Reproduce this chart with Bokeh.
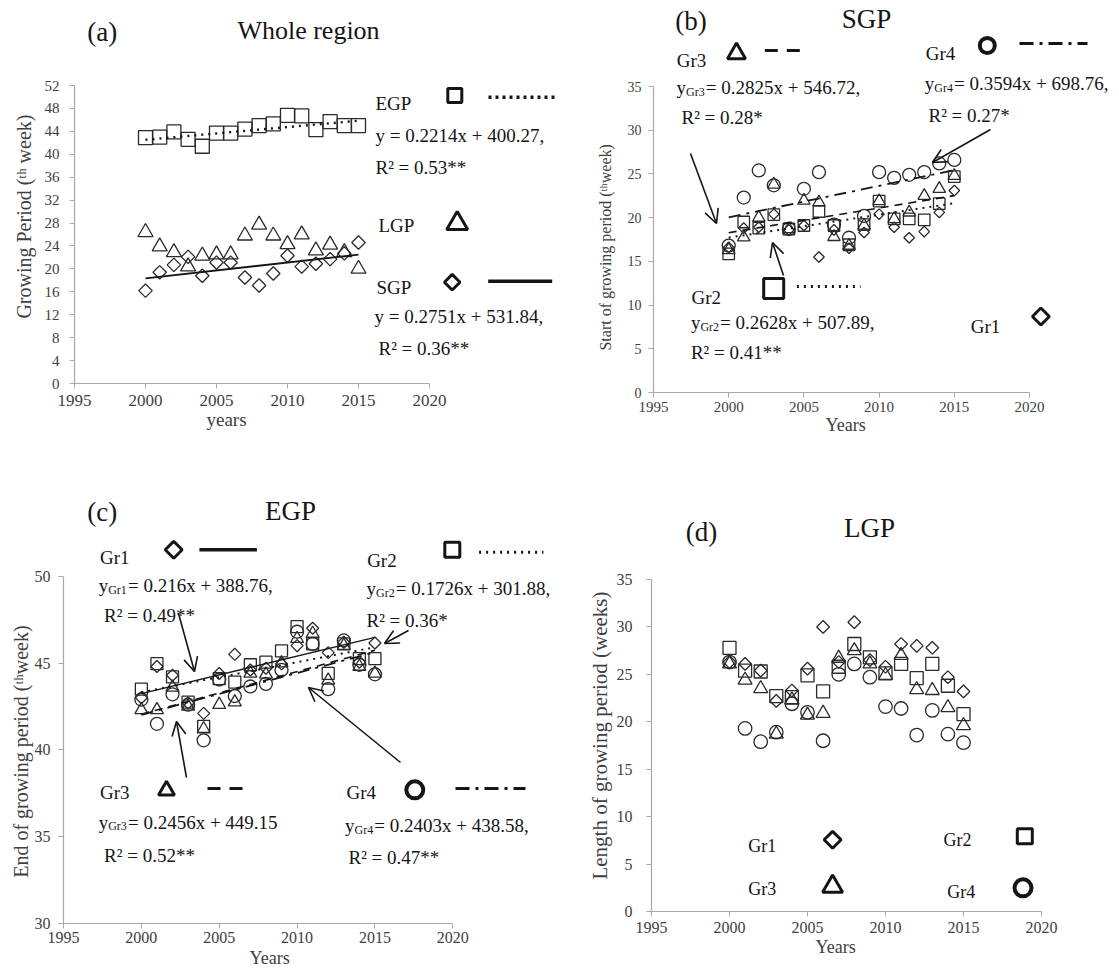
import math
from bokeh.plotting import figure
from bokeh.models import Range1d, FixedTicker, Label, Arrow, OpenHead, Title
from bokeh.layouts import column, row
from bokeh.embed import file_html
from bokeh.resources import INLINE

# ---------------- data ----------------
years = list(range(2000, 2016))
x_ticks = [1995, 2000, 2005, 2010, 2015, 2020]

# (a) whole region
egp_a = [42.9, 43.0, 43.9, 42.6, 41.4, 43.7, 43.7, 44.4, 45.0, 45.3, 46.8, 46.7, 44.3, 45.7, 45.0, 45.0]
lgp_a = [26.4, 23.9, 22.9, 20.4, 22.3, 22.5, 22.5, 25.8, 27.7, 25.8, 24.3, 26.0, 23.2, 24.2, 22.9, 20.0]
sgp_a = [16.2, 19.4, 20.7, 22.1, 18.8, 21.1, 21.1, 18.5, 17.1, 19.2, 22.3, 20.4, 20.9, 21.7, 22.7, 24.6]
trend_a_slope = {"EGP": 0.2214, "SGP": 0.2751}
trend_a_icpt = {"EGP": -400.27, "SGP": -531.84}

# (b) SGP by group
sgp_gr1 = [16.6, 18.8, 18.9, 20.4, 18.6, 19.1, 15.5, 18.6, 16.5, 18.3, 20.4, 18.9, 17.7, 18.4, 20.6, 23.1]
sgp_gr2 = [15.85, 19.5, 18.8, 20.35, 18.7, 19.1, 20.7, 19.1, 16.9, 19.2, 21.9, 19.85, 19.85, 19.75, 21.6, 24.7]
sgp_gr3 = [16.3, 17.75, 20.0, 23.8, 18.7, 21.95, 21.75, 17.8, 16.8, 19.1, 21.9, 19.85, 20.6, 22.5, 23.3, 24.8]
sgp_gr4 = [16.8, 22.3, 25.4, 23.7, 18.7, 23.3, 25.2, 19.2, 17.7, 20.2, 25.2, 24.55, 24.9, 25.2, 26.2, 26.6]
trend_b_slope = {"Gr2": 0.2628, "Gr3": 0.2825, "Gr4": 0.3594}
trend_b_icpt = {"Gr2": -507.89, "Gr3": -546.72, "Gr4": -698.76}

# (c) EGP by group
egp_gr1 = [43.0, 44.8, 44.3, 42.7, 42.1, 44.4, 45.5, 44.6, 44.7, 44.95, 46.0, 47.0, 45.6, 46.2, 45.05, 46.15]
egp_gr2 = [43.5, 44.96, 44.2, 42.75, 41.35, 44.1, 43.9, 44.9, 45.05, 45.7, 47.1, 46.1, 44.4, 46.1, 45.25, 45.25]
egp_gr3 = [42.3, 42.3, 43.6, 42.5, 41.2, 42.6, 42.75, 44.4, 44.35, 45.0, 46.4, 46.7, 44.0, 46.0, 44.8, 44.4]
egp_gr4 = [42.9, 41.5, 43.2, 42.6, 40.55, 44.05, 43.1, 43.65, 43.8, 44.6, 46.8, 46.1, 43.5, 46.3, 44.9, 44.35]
trend_c_slope = {"Gr1": 0.216, "Gr2": 0.1726, "Gr3": 0.2456, "Gr4": 0.2403}
trend_c_icpt = {"Gr1": -388.76, "Gr2": -301.88, "Gr3": -449.15, "Gr4": -438.58}

# (d) LGP by group
lgp_gr1 = [26.3, 26.1, 25.4, 22.2, 23.3, 25.6, 30.0, 26.3, 30.5, 26.5, 25.8, 28.2, 28.0, 27.8, 24.7, 23.2]
lgp_gr2 = [27.8, 25.4, 25.3, 22.7, 22.6, 24.9, 23.2, 25.8, 28.2, 26.8, 25.1, 26.1, 24.6, 26.1, 23.8, 20.8]
lgp_gr3 = [26.1, 24.4, 23.5, 18.7, 22.3, 20.7, 20.9, 26.7, 27.5, 26.1, 24.9, 27.0, 23.4, 23.3, 21.5, 19.6]
lgp_gr4 = [26.3, 19.3, 17.9, 18.9, 21.9, 21.0, 18.0, 25.0, 26.1, 24.7, 21.6, 21.4, 18.6, 21.2, 18.7, 17.8]

# ---------------- style ----------------
FONT = "Liberation Serif"
TXT = "#151515"
GREY = "#404040"
AXC = "#a8a8a8"
MK = "#2a2a2a"
DOT = "2 5"
DASH = "13 9"
DASHDOT = "14 6 3 6"

# approximate Times advance widths (em) used to centre side titles
_W = {" ": .25, "(": .333, ")": .333, "a": .444, "d": .5, "e": .444, "f": .333,
      "g": .5, "h": .5, "i": .278, "k": .5, "l": .278, "n": .5, "o": .5, "p": .5,
      "r": .333, "s": .389, "t": .278, "w": .722, "y": .5, "E": .611, "G": .722,
      "L": .611, "P": .556, "S": .556, "Y": .722, "ᵗ": .3, "ʰ": .32}


def text_em(s):
    return sum(_W.get(c, .5) for c in s)


class Panel:
    """fx, fy: page position of the figure; bb: bottom border (equal within a row)."""

    def __init__(self, fx, fy, w, bb, px_x0, px_x1, x0, x1, py_y0, py_y1, y0, y1):
        left = int(round(px_x0 - fx))
        fb = int(round(py_y0))          # page y of frame bottom (= axis)
        h = fb - fy + bb
        self.kx = (px_x1 - px_x0) / (x1 - x0)
        self.ky = (py_y0 - py_y1) / (y1 - y0)
        self.ax0 = fx + left
        self.ay0 = fb
        self.x0, self.y0 = x0, y0
        xe = x0 + (w - left) / self.kx
        ye = y0 + (self.ay0 - fy) / self.ky
        p = figure(width=w, height=h, x_range=Range1d(x0, xe), y_range=Range1d(y0, ye),
                   output_backend="svg", toolbar_location=None,
                   min_border_left=left, min_border_right=0, min_border_top=0,
                   min_border_bottom=bb, outline_line_color=None,
                   background_fill_color="white", border_fill_color="white")
        p.grid.visible = False
        self.p = p

    def X(self, px):
        return self.x0 + (px - self.ax0) / self.kx

    def Y(self, py):
        return self.y0 + (self.ay0 - py) / self.ky

    def axes(self, yticks, xb, yb, xfs, yfs, xst, yst):
        xa = self.p.xaxis[0]
        ya = self.p.yaxis[0]
        xa.ticker = FixedTicker(ticks=x_ticks)
        ya.ticker = FixedTicker(ticks=yticks)
        xa.bounds = xb
        ya.bounds = yb
        for a, fs, st in ((xa, xfs, xst), (ya, yfs, yst)):
            a.axis_line_color = AXC
            a.axis_line_width = 1.2
            a.major_tick_line_color = AXC
            a.major_tick_out = 5
            a.major_tick_in = 0
            a.minor_tick_line_color = None
            a.major_label_text_font = FONT
            a.major_label_text_font_size = f"{fs}px"
            a.major_label_text_color = GREY
            a.major_label_standoff = st

    def xtitle(self, txt, size, cx, standoff=0):
        w = text_em(txt) * size
        self.p.add_layout(Title(text=txt, align="left", offset=cx - self.ax0 - w / 2,
                                standoff=standoff, vertical_align="top", text_font=FONT,
                                text_font_size=f"{size}px", text_font_style="normal",
                                text_color=GREY), "below")

    def ytitle(self, txt, size, cy, standoff):
        w = text_em(txt) * size
        self.p.add_layout(Title(text=txt, align="left", offset=(self.ay0 - cy) - w / 2,
                                standoff=standoff, vertical_align="bottom", text_font=FONT,
                                text_font_size=f"{size}px", text_font_style="normal",
                                text_color=GREY), "left")

    def lab(self, px, py, txt, size, align="left", color=TXT, xo=0, yo=0):
        self.p.add_layout(Label(x=self.X(px), y=self.Y(py), text=txt, text_font=FONT,
                                text_font_size=f"{size}px", text_color=color,
                                text_align=align, text_baseline="middle",
                                x_offset=xo, y_offset=yo))

    def eq(self, px, py, sub, rest, size=19):
        self.lab(px, py, "y", size)
        subsize = 12
        self.lab(px, py, sub, subsize, xo=0.5 * size, yo=-4)
        self.lab(px, py, rest, size, xo=0.5 * size + 1.56 * subsize + 1)

    def arrow(self, a, b, c, d):
        self.p.add_layout(Arrow(end=OpenHead(size=14, line_width=1.6, line_color=TXT),
                                x_start=self.X(a), y_start=self.Y(b),
                                x_end=self.X(c), y_end=self.Y(d),
                                line_width=1.6, line_color=TXT))

    def key(self, px, py, marker, size, lw=3.0):
        kw = {}
        if marker == "diamond":
            marker = "square"
            kw["angle"] = math.pi / 4
        self.p.scatter([self.X(px)], [self.Y(py)], marker=marker, size=size,
                       line_color=TXT, fill_color=None, line_width=lw, **kw)

    def kline(self, a, b, py, dash, lw=3.0):
        self.p.line([self.X(a), self.X(b)], [self.Y(py), self.Y(py)], line_color=TXT,
                    line_width=lw, line_dash=dash)

    def pts(self, vals, marker, size, lw=1.3):
        kw = {}
        if marker == "diamond":
            marker = "square"
            kw["angle"] = math.pi / 4
        self.p.scatter(years, vals, marker=marker, size=size, line_color=MK,
                       fill_color=None, line_width=lw, **kw)

    def trend(self, m, b, dash, lw=1.6):
        xs = [years[0], years[-1]]
        self.p.line(xs, [m * x + b for x in xs], line_color=TXT, line_width=lw, line_dash=dash)


TOP_BB = 68   # shared bottom border of the top row
BOT_BB = 54   # shared bottom border of the bottom row
ROW2_Y = 460

# ---------------- (a) ----------------
A = Panel(0, 0, 560, TOP_BB, 74, 429, 1995, 2020, 383, 85, 0, 52)
A.axes(list(range(0, 53, 4)), (1995, 2020), (0, 52), 17, 15, 6, 10)
A.pts(egp_a, "square", 14)
A.pts(lgp_a, "triangle", 15)
A.pts(sgp_a, "diamond", 9.5)
A.trend(trend_a_slope["EGP"], trend_a_icpt["EGP"], DOT, 2.4)
A.trend(trend_a_slope["SGP"], trend_a_icpt["SGP"], "solid", 1.8)
A.lab(101.8, 31.7, "(a)", 27, "center")
A.lab(308, 30, "Whole region", 26, "center")
A.lab(375, 102.7, "EGP", 19)
A.key(454.3, 95, "square", 14)
A.kline(488, 557, 96.7, "3 4", 3.5)
A.lab(375, 135, "y = 0.2214x + 400.27,", 19)
A.lab(375, 167, "R² = 0.53**", 19)
A.lab(378, 225, "LGP", 19)
A.key(456.7, 223, "triangle", 21)
A.lab(376, 286.7, "SGP", 19)
A.key(451.7, 281.7, "diamond", 11)
A.kline(487.7, 551.7, 280.7, "solid", 3.5)
A.lab(374, 316, "y = 0.2751x + 531.84,", 19)
A.lab(378, 348, "R² = 0.36**", 19)
A.ytitle("Growing Period (ᵗʰ week)", 20, 215, 14)
A.xtitle("years", 19, 226)

# ---------------- (b) ----------------
B = Panel(560, 0, 559, TOP_BB, 653, 1029, 1995, 2020, 392, 86, 0, 35)
B.axes(list(range(0, 36, 5)), (1995, 2020), (0, 35), 15, 14, 4, 7)
B.pts(sgp_gr1, "diamond", 7.5)
B.pts(sgp_gr2, "square", 11.5)
B.pts(sgp_gr3, "triangle", 12.5)
B.pts(sgp_gr4, "circle", 13)
B.trend(trend_b_slope["Gr2"], trend_b_icpt["Gr2"], DOT, 2.0)
B.trend(trend_b_slope["Gr3"], trend_b_icpt["Gr3"], "8 6", 1.6)
B.trend(trend_b_slope["Gr4"], trend_b_icpt["Gr4"], "12 6 3 6", 1.8)
B.lab(690.4, 20, "(b)", 27, "center")
B.lab(866, 18, "SGP", 27, "center")
B.lab(691, 60, "Gr3", 19, "center")
B.key(736, 53, "triangle", 18)
B.kline(764.3, 805.7, 50, DASH)
B.eq(676, 87, "Gr3", "= 0.2825x + 546.72,")
B.lab(681, 117, "R² = 0.28*", 19)
B.lab(940, 53, "Gr4", 19, "center")
B.key(986.8, 45, "circle", 15, 4)
B.kline(1019, 1087, 43, DASHDOT)
B.eq(924.3, 83, "Gr4", "= 0.3594x + 698.76,")
B.lab(928, 115, "R² = 0.27*", 19)
B.arrow(690, 153, 716, 223)
B.arrow(990, 129, 932, 162)
B.arrow(783, 275, 772, 242)
B.lab(705.7, 297, "Gr2", 19, "center")
B.key(773.2, 288, "square", 20)
B.kline(796.4, 860, 286, DOT)
B.eq(690.4, 322, "Gr2", "= 0.2628x + 507.89,")
B.lab(690.4, 352, "R² = 0.41**", 19)
B.lab(985, 326, "Gr1", 19, "center")
B.key(1040.4, 316, "diamond", 12)
B.ytitle("Start of growing period (ᵗʰweek)", 16, 246, 22)
B.xtitle("Years", 18, 846)

# ---------------- (c) ----------------
C = Panel(0, ROW2_Y, 560, BOT_BB, 63, 452.3, 1995, 2020, 923, 575.7, 30, 50)
C.axes([30, 35, 40, 45, 50], (1995, 2020), (30, 50), 16, 16, 3, 8)
C.pts(egp_gr1, "diamond", 8.5)
C.pts(egp_gr2, "square", 12)
C.pts(egp_gr3, "triangle", 13)
C.pts(egp_gr4, "circle", 13)
C.trend(trend_c_slope["Gr1"], trend_c_icpt["Gr1"], "solid", 1.4)
C.trend(trend_c_slope["Gr2"], trend_c_icpt["Gr2"], DOT, 2.0)
C.trend(trend_c_slope["Gr3"], trend_c_icpt["Gr3"], "8 6", 1.6)
C.trend(trend_c_slope["Gr4"], trend_c_icpt["Gr4"], "12 6 3 6", 1.8)
C.lab(101.8, 511.7, "(c)", 27, "center")
C.lab(290, 510, "EGP", 27, "center")
C.lab(114.3, 557.3, "Gr1", 19, "center")
C.key(173.2, 549.3, "diamond", 12)
C.kline(198.9, 256.4, 549.3, "solid", 3.5)
C.eq(98.2, 585, "Gr1", "= 0.216x + 388.76,")
C.lab(103.6, 615, "R² = 0.49**", 19)
C.lab(381.4, 560, "Gr2", 19, "center")
C.key(451.8, 549.3, "square", 15)
C.kline(478.6, 542.9, 551.7, DOT)
C.eq(366, 588, "Gr2", "= 0.1726x + 301.88,")
C.lab(366, 620, "R² = 0.36*", 19)
C.lab(114.3, 791.7, "Gr3", 19, "center")
C.key(166, 790, "triangle", 16)
C.kline(207, 248, 788, DASH)
C.eq(98.2, 821.7, "Gr3", "= 0.2456x + 449.15")
C.lab(103.6, 855, "R² = 0.52**", 19)
C.lab(360.7, 791.7, "Gr4", 19, "center")
C.key(414.3, 789.3, "circle", 17, 4)
C.kline(455, 525, 788, DASHDOT)
C.eq(344.6, 825, "Gr4", "= 0.2403x + 438.58,")
C.lab(348, 856.7, "R² = 0.47**", 19)
C.arrow(178, 613, 194, 671)
C.arrow(408, 630, 384, 643)
C.arrow(186, 777, 176, 721)
C.arrow(400, 762, 308, 687)
C.ytitle("End of growing period (ᵗʰweek)", 20, 750, 0)
C.xtitle("Years", 18, 270, 5)

# ---------------- (d) ----------------
D = Panel(560, ROW2_Y, 559, BOT_BB, 651, 1041, 1995, 2020, 911, 579, 0, 35)
D.axes(list(range(0, 36, 5)), (1995, 2020), (0, 35), 16, 16, 5, 14)
D.pts(lgp_gr1, "diamond", 9)
D.pts(lgp_gr2, "square", 13)
D.pts(lgp_gr3, "triangle", 14)
D.pts(lgp_gr4, "circle", 13.5)
D.lab(701, 531.7, "(d)", 27, "center")
D.lab(869, 527, "LGP", 27, "center")
D.lab(761.8, 845, "Gr1", 18, "center")
D.key(832.1, 839.3, "diamond", 12)
D.lab(957.1, 839.3, "Gr2", 18, "center")
D.key(1024.3, 835.7, "square", 15)
D.lab(761.8, 888.3, "Gr3", 18, "center")
D.key(832.1, 886, "triangle", 20)
D.lab(960.7, 891, "Gr4", 18, "center")
D.key(1022.5, 887.3, "circle", 17, 4)
D.ytitle("Length of growing period (weeks)", 21, 735, 3)
D.xtitle("Years", 18, 836, 2)

layout = column(row(A.p, B.p), row(C.p, D.p))
open("out.html", "w").write(file_html(layout, INLINE))
